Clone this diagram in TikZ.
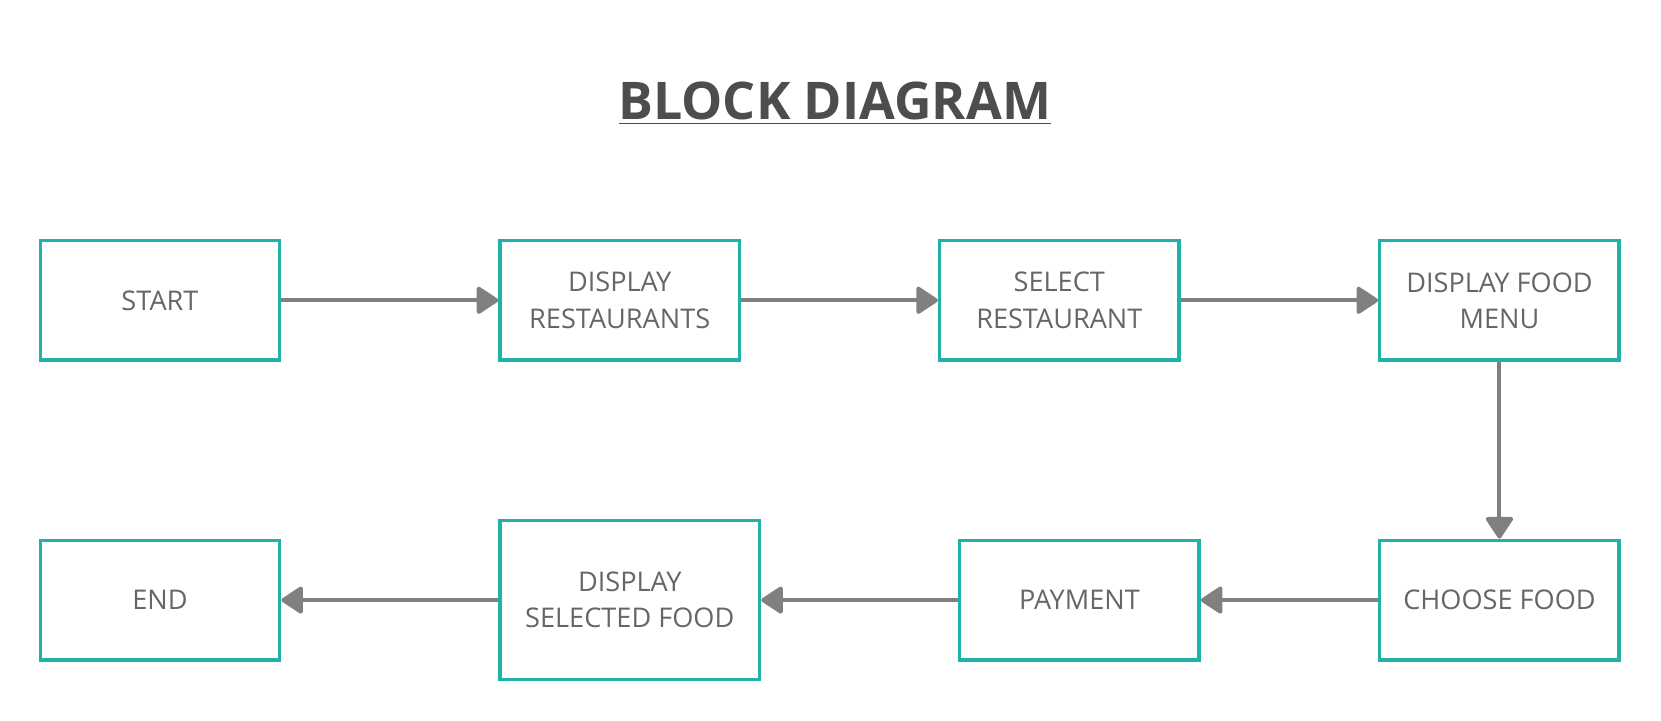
\documentclass[tikz,border=0pt]{standalone}
\usepackage{fontspec}
\setmainfont{Open Sans}
\usetikzlibrary{arrows.meta,positioning}
\definecolor{boxline}{HTML}{20B2AA}
\definecolor{flow}{HTML}{808080}
\definecolor{label}{HTML}{666666}
\definecolor{heading}{HTML}{4D4D4D}

\begin{document}
\begin{tikzpicture}[on grid, auto,
	block/.style={draw=boxline, line width=1.6pt, fill=white, text=label, align=center,
		minimum width=113pt, minimum height=56.5pt, inner sep=0pt, font=\fontsize{12.8pt}{17pt}\selectfont},
	flowline/.style={color=flow, line width=1.9pt, -{Triangle[length=11pt,width=14pt,round]}}]
	\useasboundingbox (0,0) rectangle (784pt,-340pt);
	\node[text=heading, anchor=base, font=\fontsize{24.5pt}{28pt}\selectfont\bfseries] (title) at (394pt,-56.5pt) {\underline{BLOCK DIAGRAM}};
	
	\node[block] (start) at (75.5pt,-141.75pt) {START};
	\node[block] (rest) [right=217pt of start] {DISPLAY\\RESTAURANTS};
	\node[block] (selrest) [right=207.5pt of rest] {SELECT\\RESTAURANT};
	\node[block] (menu) [right=207.75pt of selrest] {DISPLAY FOOD\\MENU};
	\node[block] (choose) [below=141.5pt of menu] {CHOOSE FOOD};
	\node[block] (pay) [left=198.25pt of choose] {PAYMENT};
	\node[block, minimum width=122.5pt, minimum height=75pt] (showfood) [left=212.25pt of pay] {DISPLAY\\SELECTED FOOD};
	\node[block] (finish) [left=221.75pt of showfood] {END};
	
	\path[flowline]
	(start) edge (rest)
	(rest) edge (selrest)
	(selrest) edge (menu)
	(menu) edge (choose)
	(choose) edge (pay)
	(pay) edge (showfood)
	(showfood) edge (finish);
\end{tikzpicture}
\end{document}
